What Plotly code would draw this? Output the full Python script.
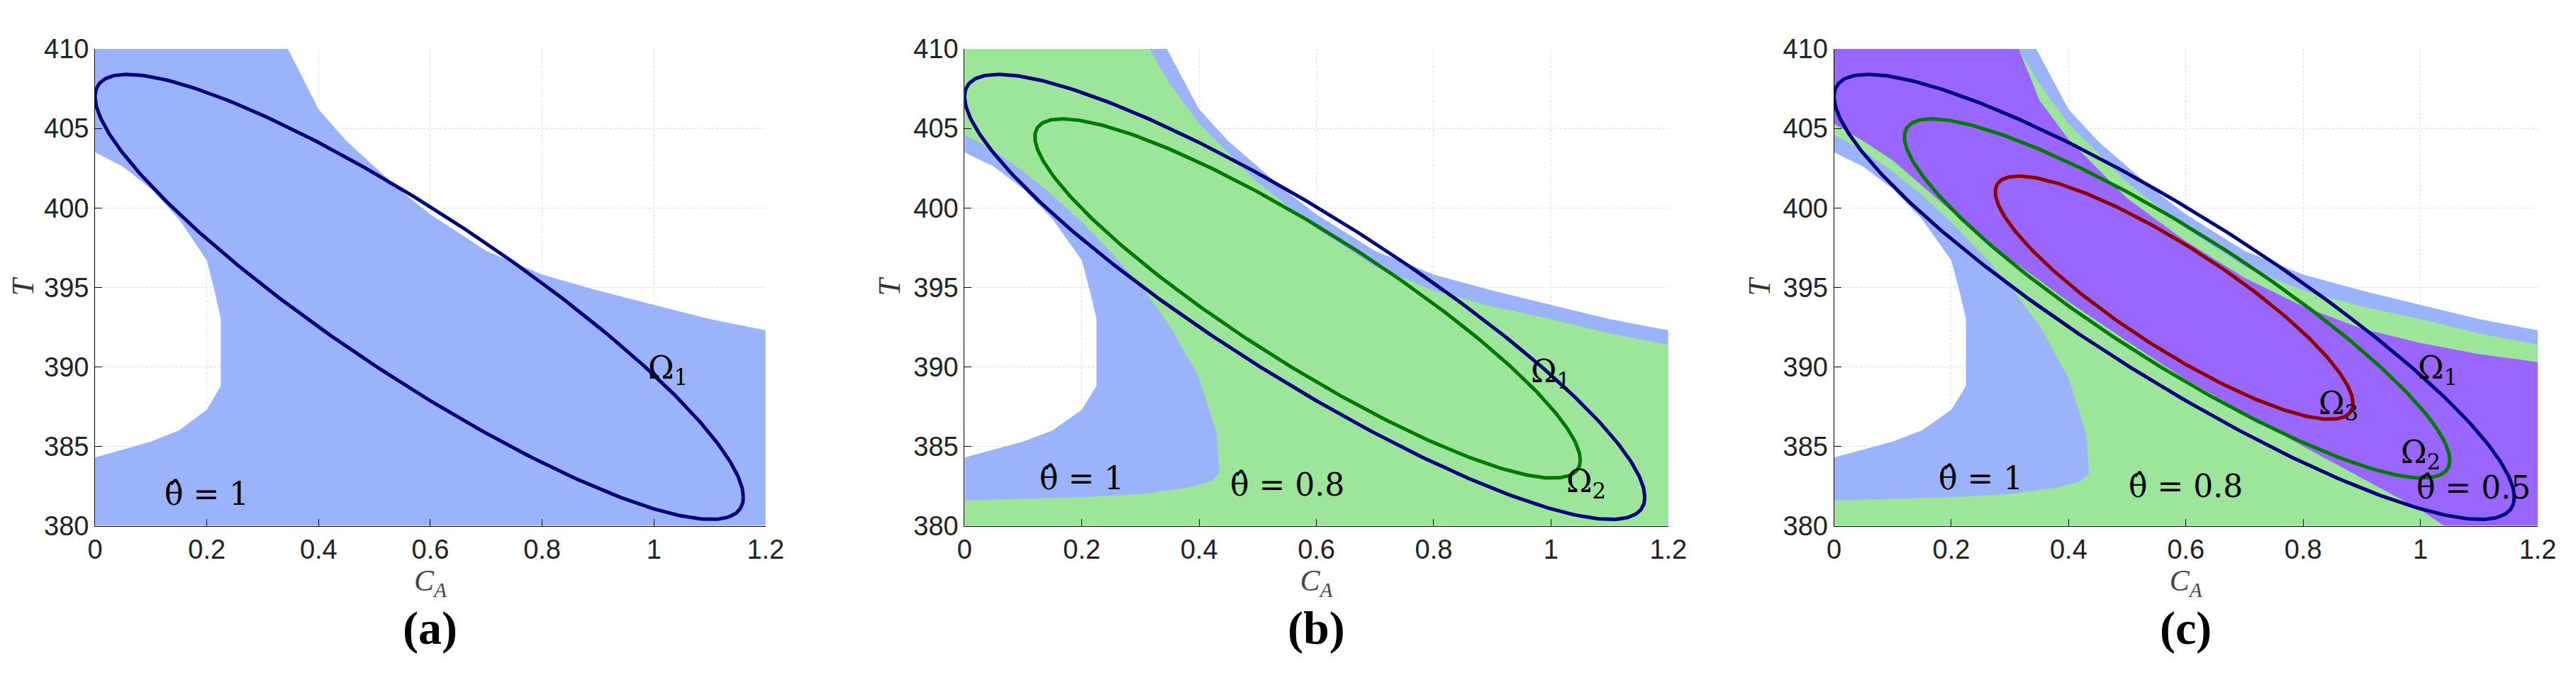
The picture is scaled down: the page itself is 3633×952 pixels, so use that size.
import numpy as np
import plotly.graph_objects as go

# ---- data ----
# theta=1 feasible region (blue)
blue_top_x = [0, 0.345, 0.4, 0.45, 0.5, 0.55, 0.6, 0.7, 0.8, 0.9, 1.0, 1.1, 1.2]
blue_top_y = [410, 410, 406.2, 404.2, 402.6, 401.0, 399.6, 397.3, 395.8, 394.8, 393.9, 393.0, 392.3]
blue_low_x = [0, 0.05, 0.1, 0.15, 0.2, 0.215, 0.225, 0.225, 0.2, 0.15, 0.1, 0.05, 0]
blue_low_y = [403.5, 402.6, 401.2, 399.3, 396.7, 394.6, 393.0, 388.8, 387.3, 386.0, 385.3, 384.8, 384.3]
# theta=0.8 region (green)
green_top_x = [0, 0.315, 0.35, 0.4, 0.5, 0.6, 0.7, 0.8, 0.9, 1.0, 1.1, 1.2]
green_top_y = [410, 410, 407.8, 405.3, 401.6, 398.7, 396.3, 394.8, 393.8, 393.0, 392.1, 391.4]
green_low_x = [0, 0.05, 0.1, 0.15, 0.2, 0.25, 0.3, 0.35, 0.4, 0.43, 0.435, 0.42, 0.38, 0.3, 0.2, 0.1, 0]
green_low_y = [404.6, 403.6, 402.3, 400.8, 399.1, 397.2, 395.1, 392.6, 389.3, 385.8, 383.3, 382.8, 382.4, 382.0, 381.8, 381.7, 381.6]
# theta=0.5 region (purple)
purple_top_x = [0, 0.315, 0.35, 0.4, 0.5, 0.6, 0.7, 0.8, 0.9, 1.0, 1.1, 1.2]
purple_top_y = [410, 410, 406.8, 404.3, 400.6, 397.9, 395.6, 393.8, 392.4, 391.5, 390.8, 390.3]
purple_low_x = [0, 0.05, 0.1, 0.2, 0.3, 0.4, 0.5, 0.6, 0.7, 0.8, 0.9, 1.0, 1.04]
purple_low_y = [405.3, 404.2, 403.0, 399.8, 396.8, 394.1, 391.6, 389.2, 387.1, 385.0, 383.0, 381.0, 380.0]
# ellipses: center x, center y, half-width x, half-height y, cos(phase)
ell_names = ["Ω<sub>1</sub>", "Ω<sub>2</sub>", "Ω<sub>3</sub>"]
ell_cx = [0.58, 0.585, 0.58]
ell_cy = [394.4, 394.3, 394.35]
ell_ax = [0.58, 0.465, 0.305]
ell_by = [14.0, 11.3, 7.65]
ell_cos = [-0.9, -0.9, -0.87]
ell_colors = ["#00007a", "#007800", "#8b0000"]

BLUE = "#9bb3fb"; GREEN = "#9de59a"; PURPLE = "#9966ff"

def region(topx, topy, lowx, lowy, right_bottom=None):
    xs = list(topx) + [1.2, 1.2]
    ys = list(topy) + [topy[-1], 380]
    if right_bottom is None:
        xs += [0]; ys += [380]
    xs += list(lowx)[::-1]; ys += list(lowy)[::-1]
    return xs, ys

fig = go.Figure()
domains = [(0.032, 0.295), (0.373, 0.649), (0.714, 0.990)]
TICKF = dict(size=38, family="Liberation Sans Narrow, Liberation Sans", color="#222")

for p in range(3):
    xa = "x" if p == 0 else f"x{p+1}"
    ya = "y" if p == 0 else f"y{p+1}"
    xs, ys = region(blue_top_x, blue_top_y, blue_low_x, blue_low_y)
    fig.add_trace(go.Scatter(x=xs, y=ys, fill="toself", fillcolor=BLUE, mode="none",
                             xaxis=xa, yaxis=ya, showlegend=False, hoverinfo="skip"))
    if p >= 1:
        xs, ys = region(green_top_x, green_top_y, green_low_x, green_low_y)
        fig.add_trace(go.Scatter(x=xs, y=ys, fill="toself", fillcolor=GREEN, mode="none",
                                 xaxis=xa, yaxis=ya, showlegend=False, hoverinfo="skip"))
    if p >= 2:
        xs, ys = region(purple_top_x, purple_top_y, purple_low_x, purple_low_y, right_bottom=True)
        fig.add_trace(go.Scatter(x=xs, y=ys, fill="toself", fillcolor=PURPLE, mode="none",
                                 xaxis=xa, yaxis=ya, showlegend=False, hoverinfo="skip"))
    t = np.linspace(0, 2 * np.pi, 400)
    for k in range(p + 1):
        d = np.arccos(ell_cos[k])
        ex = ell_cx[k] + ell_ax[k] * np.cos(t)
        ey = ell_cy[k] + ell_by[k] * np.cos(t - d)
        fig.add_trace(go.Scatter(x=ex, y=ey, mode="lines", line=dict(color=ell_colors[k], width=5),
                                 xaxis=xa, yaxis=ya, showlegend=False, hoverinfo="skip"))

    ax = dict(domain=domains[p], range=[0, 1.2], tickvals=[0, 0.2, 0.4, 0.6, 0.8, 1, 1.2],
              ticktext=["0", "0.2", "0.4", "0.6", "0.8", "1", "1.2"], showline=True, linecolor="black",
              ticks="inside", ticklen=10, tickcolor="black", gridcolor="#dddddd", griddash="dot",
              tickfont=TICKF,
              title=dict(text="<i>C<sub>A</sub></i>", font=dict(size=42, family="Liberation Serif", color="#444"), standoff=4),
              anchor=ya, zeroline=False)
    ay = dict(domain=[0.217, 0.956], range=[380, 410], tickvals=[380, 385, 390, 395, 400, 405, 410],
              showline=True, linecolor="black", ticks="inside", ticklen=10, tickcolor="black",
              gridcolor="#dddddd", griddash="dot", zeroline=False,
              tickfont=TICKF,
              title=dict(text="<i>T</i>", font=dict(size=44, family="Liberation Serif", color="#333"), standoff=4),
              anchor=xa)
    fig.layout[("xaxis" if p == 0 else f"xaxis{p+1}")] = ax
    fig.layout[("yaxis" if p == 0 else f"yaxis{p+1}")] = ay

    cx = (domains[p][0] + domains[p][1]) / 2
    fig.add_annotation(text="<b>(" + "abc"[p] + ")</b>", x=cx, y=0.015, xref="paper", yref="paper",
                       showarrow=False, xanchor="center", yanchor="bottom",
                       font=dict(size=66, family="Liberation Serif", color="black"))

def lab(p, text, x, y):
    xa = "x" if p == 0 else f"x{p+1}"
    ya = "y" if p == 0 else f"y{p+1}"
    fig.add_annotation(text=text, x=x, y=y, xref=xa, yref=ya, showarrow=False,
                       font=dict(size=44, family="DejaVu Serif", color="black"))

TH = "\u03b8\u0302"
lab(0, ell_names[0], 1.025, 389.8)
lab(0, TH + " = 1", 0.2, 382.0)
lab(1, ell_names[0], 1.0, 389.6)
lab(1, ell_names[1], 1.06, 382.7)
lab(1, TH + " = 1", 0.2, 383.0)
lab(1, TH + " = 0.8", 0.55, 382.6)
lab(2, ell_names[0], 1.03, 389.8)
lab(2, ell_names[1], 1.0, 384.5)
lab(2, ell_names[2], 0.86, 387.6)
lab(2, TH + " = 1", 0.25, 383.0)
lab(2, TH + " = 0.8", 0.6, 382.5)
lab(2, TH + " = 0.5", 1.09, 382.4)

fig.update_layout(width=3633, height=952, paper_bgcolor="white", plot_bgcolor="white",
                  margin=dict(l=0, r=0, t=0, b=0))
fig.write_html("out.html")
